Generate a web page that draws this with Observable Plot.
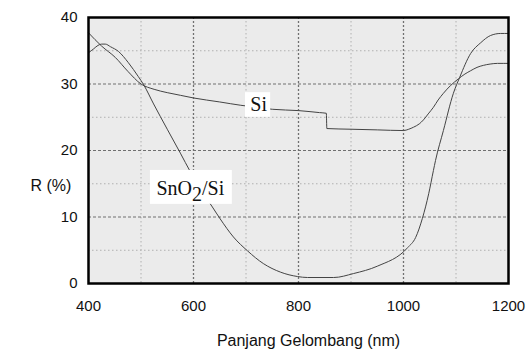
<!DOCTYPE html>
<html><head><meta charset="utf-8">
<script src="https://cdn.jsdelivr.net/npm/d3@7"></script>
<script src="https://cdn.jsdelivr.net/npm/@observablehq/plot@0.6"></script>
<style>html,body{margin:0;padding:0;background:#fff}</style>
</head><body><div id="chart"></div>
<script>
// Tick labels / grid
const xTicks = [400, 600, 800, 1000, 1200];
const yTicks = [0, 10, 20, 30, 40];
const xMajorGrid = [600, 800, 1000];
const xMinorGrid = [500, 700, 900, 1100];
const yMajorGrid = [10, 20, 30];
const yMinorGrid = [5, 15, 25, 35];
const xTitle = "Panjang Gelombang (nm)";
const yTitle = "R (%)";

// Si series
const siX = [400, 425, 451, 475, 500, 525, 550, 575, 600, 650, 690, 720, 750, 800, 840, 853, 854, 900, 950, 1000, 1010, 1019, 1030, 1038, 1047, 1057, 1066, 1076, 1090, 1105, 1117, 1128, 1140, 1152, 1165, 1179, 1190, 1200];
const siY = [37.7, 35.7, 34.0, 31.9, 30.0, 29.2, 28.7, 28.3, 27.9, 27.3, 26.8, 26.5, 26.2, 26.0, 25.7, 25.6, 23.3, 23.2, 23.1, 23.0, 23.2, 23.5, 24.0, 24.6, 25.5, 26.5, 27.6, 28.6, 29.8, 30.8, 31.5, 32.0, 32.5, 32.8, 33.0, 33.1, 33.1, 33.1];

// SnO2/Si series
const snX = [400, 410, 418, 425, 432, 442, 457, 476, 495, 505, 524, 550, 575, 594, 615, 636, 651, 676, 703, 733, 766, 798, 817, 867, 905, 950, 1008, 1023, 1036, 1048, 1057, 1061, 1076, 1095, 1107, 1128, 1147, 1166, 1185, 1200];
const snY = [34.7, 35.3, 35.8, 36.0, 36.0, 35.6, 34.9, 33.2, 31.1, 29.9, 27.0, 23.2, 19.6, 16.8, 14.0, 11.5, 9.7, 7.0, 4.9, 3.0, 1.7, 1.05, 0.9, 0.9, 1.5, 2.6, 5.4, 6.9, 9.8, 13.5, 17.0, 18.5, 23.0, 28.6, 31.0, 34.6, 36.2, 37.3, 37.6, 37.6];

// Curve labels
const labelText = ["Si", "SnO2/Si"];
const labelX = [724, 594];
const labelY = [26.9, 14.3];
const boxX1 = [699, 518];
const boxX2 = [747, 674];
const boxY1 = [25.0, 11.9];
const boxY2 = [28.7, 17.0];

const si = siX.map((x, i) => ({x, y: siY[i]}));
const sn = snX.map((x, i) => ({x, y: snY[i]}));
const labels = labelText.map((t, i) => ({t, x: labelX[i], y: labelY[i], x1: boxX1[i], x2: boxX2[i], y1: boxY1[i], y2: boxY2[i]}));

const chart = Plot.plot({
  width: 527, height: 358,
  marginLeft: 88, marginRight: 19, marginTop: 17, marginBottom: 75,
  x: {domain: [400, 1200]},
  y: {domain: [0, 40]},
  style: {fontFamily: "'Liberation Sans', Arial, sans-serif", fontSize: "15px", color: "#111", background: "#fff"},
  marks: [
    Plot.frame({fill: "#ebebeb", stroke: null}),
    Plot.ruleX(xMinorGrid, {stroke: "#b0b0b0", strokeDasharray: "1.5,2.5", strokeWidth: 1}),
    Plot.ruleY(yMinorGrid, {stroke: "#b0b0b0", strokeDasharray: "1.5,2.5", strokeWidth: 1}),
    Plot.ruleX(xMajorGrid, {stroke: "#707070", strokeDasharray: "2,2", strokeWidth: 1.3}),
    Plot.ruleY(yMajorGrid, {stroke: "#707070", strokeDasharray: "3,2", strokeWidth: 1.2}),
    Plot.line(si, {x: "x", y: "y", stroke: "#444", strokeWidth: 1, curve: "monotone-x"}),
    Plot.line(sn, {x: "x", y: "y", stroke: "#444", strokeWidth: 1, curve: "monotone-x"}),
    Plot.rect(labels, {x1: "x1", x2: "x2", y1: "y1", y2: "y2", fill: "#fff"}),
    Plot.text(labels, {x: "x", y: "y", text: "t", fontFamily: "'Liberation Serif', 'Times New Roman', serif", fontSize: 20, fill: "#111"}),
    Plot.frame({stroke: "#000", strokeWidth: 2.5}),
    Plot.axisX(xTicks, {tickSize: 0, tickPadding: 17, label: null, fontSize: 15, tickFormat: d => String(d)}),
    Plot.axisY(yTicks, {tickSize: 0, tickPadding: 11, label: null, fontSize: 15, tickFormat: d => String(d)}),
    Plot.text([xTitle], {text: d => d, frameAnchor: "bottom", dx: 10, dy: 62, fontSize: 16}),
    Plot.text([yTitle], {text: d => d, frameAnchor: "left", dx: -58, dy: 35, fontSize: 16})
  ]
});
document.getElementById("chart").appendChild(chart);

// subscript for SnO2
d3.select(chart).selectAll("text").each(function() {
  if (this.textContent === "SnO2/Si") {
    const t = d3.select(this);
    t.text(null);
    t.append("tspan").text("SnO");
    t.append("tspan").attr("dy", 6).text("2");
    t.append("tspan").attr("dy", -6).text("/Si");
  }
});
</script>
</body></html>
